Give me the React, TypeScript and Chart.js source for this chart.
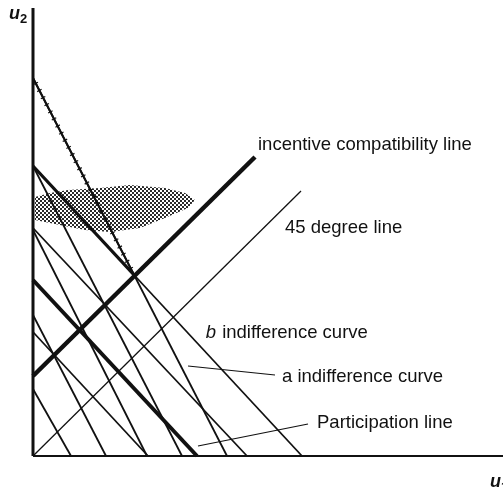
import React, { useEffect, useRef } from "react";
import { Chart, registerables } from "chart.js";

Chart.register(...registerables);

// ---- data (u1 horizontal, u2 vertical) ----
// a-type indifference curves (steep): u2-intercepts and u1-intercepts
const aCurveU2 = [37.8, 29.0, 22.6, 14.1, 6.7];
const aCurveU1 = [19.4, 14.9, 11.4, 7.3, 3.8];
// b-type indifference curves (shallow)
const bCurveU2 = [29.0, 22.8, 12.4];
const bCurveU1 = [26.9, 21.4, 11.5];
// participation line
const participationU2 = 17.6;
const participationU1 = 16.4;
// incentive compatibility line (start / end)
const icU1 = [0, 22.2];
const icU2 = [8.0, 29.9];
// 45 degree line
const deg45U1 = [0, 26.8];
const deg45U2 = [0, 26.5];
// shaded (stippled) region outline
const shadeU1 = [0.2, 1.7, 3.5, 6.7, 9.7, 13.2, 15.2, 16.2, 15.5, 13.2, 10.7, 7.7, 5.2, 3.2, 1.2, 0.2];
const shadeU2 = [25.9, 26.3, 26.6, 26.8, 27.1, 26.8, 26.3, 25.6, 24.8, 23.8, 22.8, 22.4, 22.6, 23.0, 23.4, 23.6];
// axis extents
const u1Max = 47;
const u2Max = 44.8;

// label anchors (data units)
const labelTexts = [
  "incentive compatibility line",
  "45 degree line",
  " indifference curve",
  "a indifference curve",
  "Participation line",
];
const labelU1 = [22.5, 25.2, 18.4, 24.9, 28.4];
const labelU2 = [30.6, 22.3, 11.8, 7.4, 2.8];
// pointer lines
const pointerA = { u1: [15.5, 24.2], u2: [9.0, 8.1] };
const pointerP = { u1: [16.5, 27.5], u2: [1.0, 3.2] };

const INK = "#111";
const FONT = '"Liberation Sans", Arial, sans-serif';

function intersect(p1: any, p2: any, p3: any, p4: any) {
  const d = (p1.x - p2.x) * (p3.y - p4.y) - (p1.y - p2.y) * (p3.x - p4.x);
  const a = p1.x * p2.y - p1.y * p2.x;
  const b = p3.x * p4.y - p3.y * p4.x;
  return {
    x: (a * (p3.x - p4.x) - (p1.x - p2.x) * b) / d,
    y: (a * (p3.y - p4.y) - (p1.y - p2.y) * b) / d,
  };
}

const lineDs = (data: any[], width: number, extra: any = {}) => ({
  data,
  showLine: true,
  borderColor: INK,
  backgroundColor: INK,
  borderWidth: width,
  pointRadius: 0,
  fill: false,
  clip: false,
  tension: 0,
  borderCapStyle: "butt",
  ...extra,
});

const tickPlugin = {
  id: "tickMarks",
  afterDatasetsDraw(chart: any) {
    const ctx = chart.ctx;
    chart.data.datasets.forEach((ds: any, i: number) => {
      if (!ds.ticked) return;
      const meta = chart.getDatasetMeta(i);
      const a = meta.data[0];
      const b = meta.data[meta.data.length - 1];
      const dx = b.x - a.x;
      const dy = b.y - a.y;
      const len = Math.hypot(dx, dy);
      const ux = dx / len, uy = dy / len;
      const nx = -uy, ny = ux;
      ctx.save();
      ctx.strokeStyle = INK;
      ctx.lineWidth = 1.2;
      for (let s = 6; s < len; s += 8) {
        const cx = a.x + ux * s, cy = a.y + uy * s;
        ctx.beginPath();
        ctx.moveTo(cx - nx * 2.5, cy - ny * 2.5);
        ctx.lineTo(cx + nx * 2.5, cy + ny * 2.5);
        ctx.stroke();
      }
      ctx.restore();
    });
  },
};

const labelPlugin = {
  id: "labels",
  afterDraw(chart: any) {
    const ctx = chart.ctx;
    const xs = chart.scales.x, ys = chart.scales.y;
    ctx.save();
    ctx.fillStyle = INK;
    ctx.textBaseline = "alphabetic";
    ctx.textAlign = "left";
    labelTexts.forEach((t, i) => {
      const px = xs.getPixelForValue(labelU1[i]);
      const py = ys.getPixelForValue(labelU2[i]);
      ctx.font = `18.5px ${FONT}`;
      ctx.fillText(t, px, py);
      if (i === 2) {
        ctx.font = `italic 18.5px ${FONT}`;
        const w = ctx.measureText("b").width;
        ctx.fillText("b", px - w - 1, py);
      }
    });
    // axis titles
    const drawU = (sub: string, u1: number, u2: number) => {
      const px = xs.getPixelForValue(u1);
      const py = ys.getPixelForValue(u2);
      ctx.font = `bold italic 18px ${FONT}`;
      ctx.fillText("u", px, py);
      const w = ctx.measureText("u").width;
      ctx.font = `bold 13px ${FONT}`;
      ctx.fillText(sub, px + w, py + 4);
    };
    drawU("2", -2.4, 43.7);
    drawU("1", 45.7, -3.1);
    ctx.restore();
  },
};

export default function App() {
  const ref = useRef<HTMLCanvasElement | null>(null);

  useEffect(() => {
    document.body.style.margin = "0";
    const canvas = ref.current!;
    const pc = document.createElement("canvas");
    pc.width = 4;
    pc.height = 4;
    const g = pc.getContext("2d")!;
    g.fillStyle = "#2a2a2a";
    g.fillRect(0, 0, 2, 2);
    g.fillRect(2, 2, 2, 2);
    const pattern = canvas.getContext("2d")!.createPattern(pc, "repeat");

    const icA = { x: icU1[0], y: icU2[0] };
    const icB = { x: icU1[1], y: icU2[1] };

    const datasets: any[] = [];
    // axes
    datasets.push(lineDs([{ x: 0, y: 0 }, { x: 0, y: u2Max }], 3));
    datasets.push(lineDs([{ x: 0, y: 0 }, { x: u1Max, y: 0 }], 2));
    // incentive compatibility line
    datasets.push(lineDs([icA, icB], 4.5));
    // participation line
    datasets.push(lineDs([{ x: 0, y: participationU2 }, { x: participationU1, y: 0 }], 4));
    // 45 degree line
    datasets.push(lineDs([{ x: deg45U1[0], y: deg45U2[0] }, { x: deg45U1[1], y: deg45U2[1] }], 1.3));
    // a curves
    aCurveU2.forEach((v, i) => {
      datasets.push(lineDs([{ x: 0, y: v }, { x: aCurveU1[i], y: 0 }], 1.8));
    });
    // ticked segment of first a curve (down to IC line)
    {
      const p1 = { x: 0, y: aCurveU2[0] }, p2 = { x: aCurveU1[0], y: 0 };
      const q = intersect(p1, p2, icA, icB);
      datasets.push(lineDs([p1, q], 2, { ticked: true }));
    }
    // b curves
    bCurveU2.forEach((v, i) => {
      datasets.push(lineDs([{ x: 0, y: v }, { x: bCurveU1[i], y: 0 }], 1.8));
    });
    // thick upper segment of first b curve
    {
      const p1 = { x: 0, y: bCurveU2[0] }, p2 = { x: bCurveU1[0], y: 0 };
      const q = intersect(p1, p2, icA, icB);
      datasets.push(lineDs([p1, q], 3.2));
    }
    // pointers
    datasets.push(lineDs([{ x: pointerA.u1[0], y: pointerA.u2[0] }, { x: pointerA.u1[1], y: pointerA.u2[1] }], 1.2));
    datasets.push(lineDs([{ x: pointerP.u1[0], y: pointerP.u2[0] }, { x: pointerP.u1[1], y: pointerP.u2[1] }], 1.2));
    // shaded region (drawn last in array -> beneath)
    datasets.push({
      data: shadeU1.map((x, i) => ({ x, y: shadeU2[i] })),
      showLine: true,
      borderWidth: 0,
      borderColor: "rgba(0,0,0,0)",
      backgroundColor: pattern,
      fill: "shape",
      pointRadius: 0,
      clip: false,
    });

    const chart = new Chart(canvas, {
      type: "scatter",
      data: { datasets },
      options: {
        responsive: false,
        maintainAspectRatio: false,
        animation: false,
        events: [],
        layout: { padding: { left: 33, right: 0, top: 8, bottom: 32 } },
        plugins: { legend: { display: false }, tooltip: { enabled: false } },
        scales: {
          x: { type: "linear", min: 0, max: u1Max, display: false },
          y: { type: "linear", min: 0, max: u2Max, display: false },
        },
      },
      plugins: [tickPlugin, labelPlugin],
    } as any);
    return () => chart.destroy();
  }, []);

  return (
    <div style={{ width: 503, height: 488, background: "#fff" }}>
      <canvas ref={ref} width={503} height={488} style={{ display: "block" }} />
    </div>
  );
}
